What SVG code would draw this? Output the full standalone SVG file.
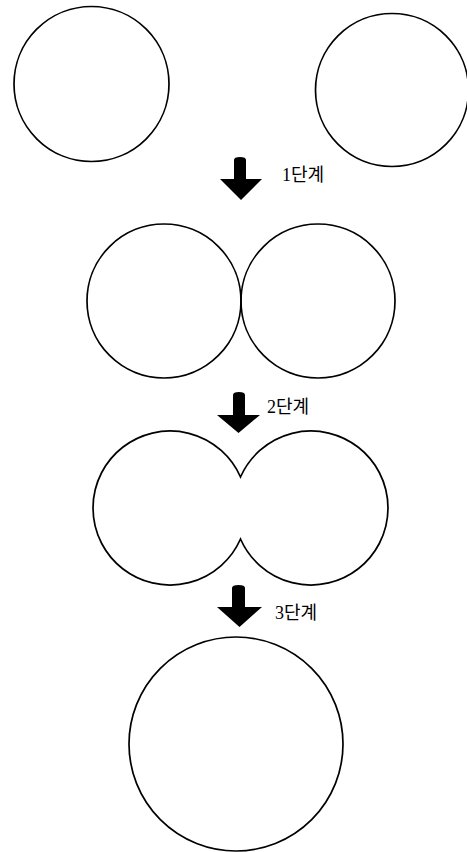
<svg xmlns="http://www.w3.org/2000/svg" width="467" height="852" viewBox="0 0 467 852">
<style>
.c{fill:none;stroke:#000;stroke-width:1.7}
.a{fill:#000;stroke:none}
.t{font-family:"Liberation Serif","Noto Sans CJK KR",serif;font-size:18px;fill:#000}
</style>
<rect width="467" height="852" fill="#fff"/>
<g id="stage0">
<g id="circle-a"><circle class="c" cx="91.5" cy="84" r="77.5"/></g>
<g id="circle-b"><circle class="c" cx="392" cy="90" r="76.5"/></g>
</g>
<g id="stage1">
<circle class="c" cx="164" cy="301" r="77"/>
<circle class="c" cx="318" cy="301" r="77"/>
</g>
<g id="stage2">
<path class="c" d="M240.5,477 A77,77 0 1 0 240.5,539 A77,77 0 1 0 240.5,477 Z"/>
</g>
<g id="stage3">
<circle class="c" cx="236" cy="744" r="107"/>
</g>
<g id="connectors">
<g id="arrow1">
<path class="a" d="M234,160 Q234,157 240,157 Q246,157 246,160 L246,179 L262,179 L241,200 L220,179 L234,179 Z"/>
<text class="t" x="282" y="181">1단계</text>
</g>
<g id="arrow2">
<path class="a" d="M233,395 Q233,392 239,392 Q245,392 245,395 L245,415 L260,415 L238.5,433 L217,415 L233,415 Z"/>
<text class="t" x="267" y="413">2단계</text>
</g>
<g id="arrow3">
<path class="a" d="M232,588 Q232,585 238.5,585 Q245,585 245,588 L245,607 L262,607 L239.5,627 L217,607 L232,607 Z"/>
<text class="t" x="275" y="619">3단계</text>
</g>
</g>
</svg>
